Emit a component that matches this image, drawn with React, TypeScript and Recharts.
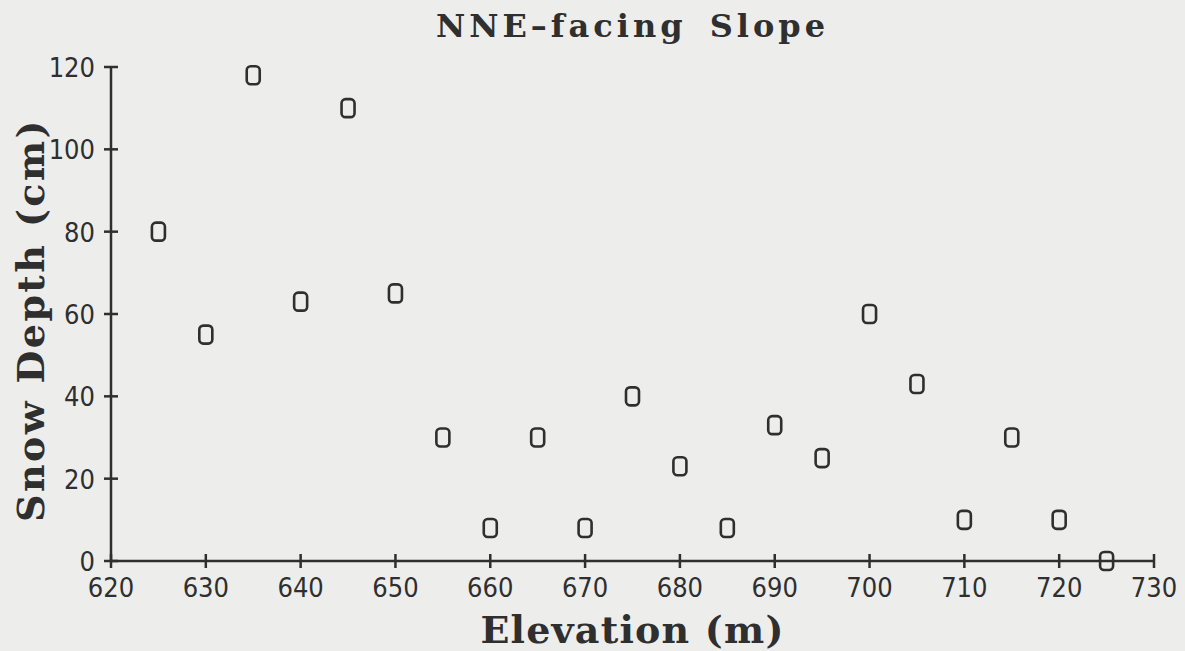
import React from "react";
import { ScatterChart, Scatter, XAxis, YAxis, Label } from "recharts";

const elevation = [625, 630, 635, 640, 645, 650, 655, 660, 665, 670, 675, 680, 685, 690, 695, 700, 705, 710, 715, 720, 725];
const snowDepth = [80, 55, 118, 63, 110, 65, 30, 8, 30, 8, 40, 23, 8, 33, 25, 60, 43, 10, 30, 10, 0];
const xTicks = [620, 630, 640, 650, 660, 670, 680, 690, 700, 710, 720, 730];
const yTicks = [0, 20, 40, 60, 80, 100, 120];

const data = elevation.map((e, i) => ({ elevation: e, depth: snowDepth[i] }));

const ink = "#2f2f2f";
const tickFont = "'Liberation Sans Narrow', 'DejaVu Sans Condensed', sans-serif";
const labelFont = "'DejaVu Serif', serif";

const XTick = ({ x, y, payload }: any) => (
  <g>
    <line x1={x} x2={x} y1={y - 7} y2={y + 7} stroke={ink} strokeWidth={2.5} />
    <text x={x} y={y + 36} textAnchor="middle" fontFamily={tickFont} fontSize={27} fill={ink}>
      {payload.value}
    </text>
  </g>
);

const YTick = ({ x, y, payload }: any) => (
  <g>
    <line x1={x - 7} x2={x + 7} y1={y} y2={y} stroke={ink} strokeWidth={2.5} />
    <text x={x - 16} y={y + 10} textAnchor="end" fontFamily={tickFont} fontSize={27} fill={ink}>
      {payload.value}
    </text>
  </g>
);

const SquareMark = ({ cx, cy }: any) => (
  <rect x={cx - 6.5} y={cy - 9} width={13} height={18} rx={4} fill="none" stroke={ink} strokeWidth={2.6} />
);

export default function App() {
  return (
    <div style={{ position: "absolute", left: 0, top: 0, width: 1185, height: 651, background: "#ededec" }}>
      <div
        style={{
          position: "absolute",
          left: 111,
          width: 1043,
          top: 6,
          lineHeight: "40px",
          textAlign: "center",
          fontFamily: labelFont,
          fontWeight: "bold",
          fontSize: 32,
          letterSpacing: 4,
          wordSpacing: 8,
          color: ink,
        }}
      >
        NNE–facing Slope
      </div>
      <ScatterChart width={1185} height={651} margin={{ top: 67, right: 31, bottom: 0, left: 0 }}>
        <XAxis
          type="number"
          dataKey="elevation"
          domain={[620, 730]}
          ticks={xTicks}
          height={90}
          tickLine={false}
          tickSize={0}
          tickMargin={0}
          tick={<XTick />}
          axisLine={{ stroke: ink, strokeWidth: 2.5 }}
          interval={0}
        >
          <Label
            content={({ viewBox }: any) => (
              <text
                x={viewBox.x + viewBox.width / 2}
                y={viewBox.y + 82}
                textAnchor="middle"
                fontFamily={labelFont}
                fontWeight="bold"
                fontSize={38}
                letterSpacing={1.2}
                fill={ink}
              >
                Elevation (m)
              </text>
            )}
          />
        </XAxis>
        <YAxis
          type="number"
          dataKey="depth"
          domain={[0, 120]}
          ticks={yTicks}
          width={111}
          tickLine={false}
          tickSize={0}
          tickMargin={0}
          tick={<YTick />}
          axisLine={{ stroke: ink, strokeWidth: 2.5 }}
          interval={0}
        >
          <Label
            content={({ viewBox }: any) => {
              const lx = 44;
              const ly = viewBox.y + viewBox.height / 2 + 6;
              return (
                <text
                  x={lx}
                  y={ly}
                  transform={`rotate(-90 ${lx} ${ly})`}
                  textAnchor="middle"
                  fontFamily={labelFont}
                  fontWeight="bold"
                  fontSize={38}
                  letterSpacing={2.4}
                  fill={ink}
                >
                  Snow Depth (cm)
                </text>
              );
            }}
          />
        </YAxis>
        <Scatter data={data} shape={<SquareMark />} isAnimationActive={false} />
      </ScatterChart>
    </div>
  );
}
